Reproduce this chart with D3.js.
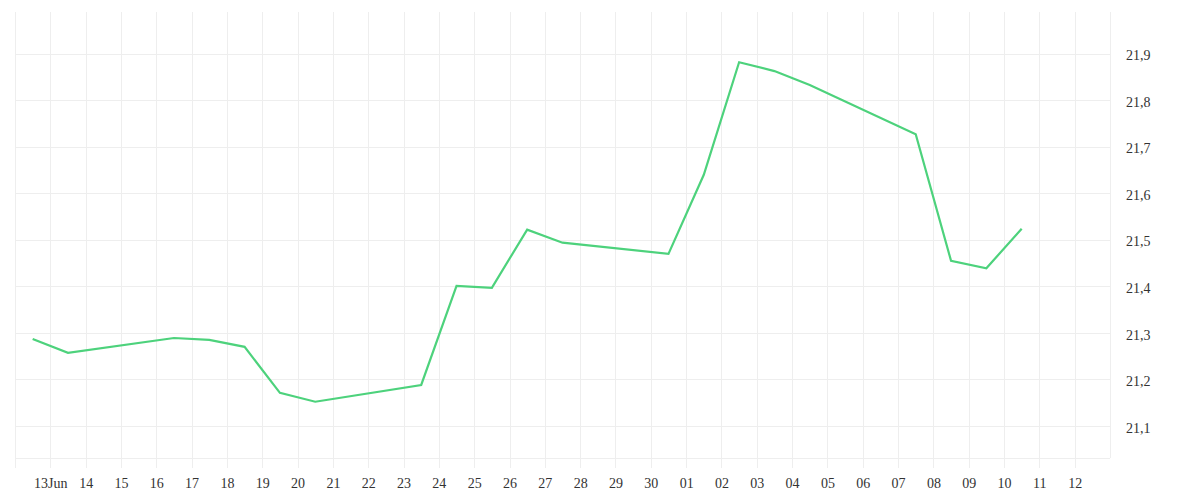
<!DOCTYPE html>
<html>
<head>
<meta charset="utf-8">
<script src="https://cdn.jsdelivr.net/npm/d3@7"></script>
<style>
  html, body { margin: 0; padding: 0; background: #ffffff; }
  svg { display: block; }
  text { font-family: "Liberation Serif", serif; font-size: 14px; fill: #333333; }
</style>
</head>
<body>
<svg id="chart" width="1200" height="500"></svg>
<script>
// ---- data ----
const dates = [
  "2014-06-12", "2014-06-13", "2014-06-16", "2014-06-17", "2014-06-18",
  "2014-06-19", "2014-06-20", "2014-06-23", "2014-06-24", "2014-06-25",
  "2014-06-26", "2014-06-27", "2014-06-30", "2014-07-01", "2014-07-02",
  "2014-07-03", "2014-07-04", "2014-07-07", "2014-07-08", "2014-07-09",
  "2014-07-10"
];
const values = [
  21.287, 21.257, 21.289, 21.285, 21.270,
  21.171, 21.152, 21.188, 21.401, 21.397,
  21.522, 21.494, 21.470, 21.640, 21.882,
  21.863, 21.833, 21.727, 21.455, 21.439,
  21.524
];
const xTickDates = [
  "2014-06-13", "2014-06-14", "2014-06-15", "2014-06-16", "2014-06-17", "2014-06-18",
  "2014-06-19", "2014-06-20", "2014-06-21", "2014-06-22", "2014-06-23", "2014-06-24",
  "2014-06-25", "2014-06-26", "2014-06-27", "2014-06-28", "2014-06-29", "2014-06-30",
  "2014-07-01", "2014-07-02", "2014-07-03", "2014-07-04", "2014-07-05", "2014-07-06",
  "2014-07-07", "2014-07-08", "2014-07-09", "2014-07-10", "2014-07-11", "2014-07-12"
];
const xTickLabels = [
  "13Jun", "14", "15", "16", "17", "18", "19", "20", "21", "22", "23", "24",
  "25", "26", "27", "28", "29", "30", "01", "02", "03", "04", "05", "06",
  "07", "08", "09", "10", "11", "12"
];
const yTicks = [21.1, 21.2, 21.3, 21.4, 21.5, 21.6, 21.7, 21.8, 21.9];
const yTickLabels = ["21,1", "21,2", "21,3", "21,4", "21,5", "21,6", "21,7", "21,8", "21,9"];
const xDomain = ["2014-06-12", "2014-07-13"];
const yDomain = [21.031, 21.990];

// ---- drawing ----
(function () {
const parse = d3.utcParse("%Y-%m-%d");
const svg = d3.select("#chart");
const mLeft = 15, mRight = 1110, mTop = 12, mBottom = 458;

const x = d3.scaleUtc().domain(xDomain.map(parse)).range([mLeft, mRight]);
const y = d3.scaleLinear().domain(yDomain).range([mBottom, mTop]);

const data = dates.map((d, i) => ({ date: d3.utcHour.offset(parse(d), 12), value: values[i] }));

const gridColor = "#eeeeee";

// vertical grid lines (each day), extended below as tick marks
const endDate = parse(xDomain[1]);
const dayLines = d3.utcDay.range(parse(xDomain[0]), d3.utcDay.offset(endDate, 1));
svg.append("g").selectAll("line").data(dayLines).join("line")
  .attr("x1", d => Math.round(x(d)) + 0.5).attr("x2", d => Math.round(x(d)) + 0.5)
  .attr("y1", mTop).attr("y2", d => (+d === +endDate ? mBottom : mBottom + 10))
  .attr("stroke", gridColor).attr("stroke-width", 1);

// horizontal grid lines
svg.append("g").selectAll("line").data(yTicks).join("line")
  .attr("x1", mLeft).attr("x2", mRight)
  .attr("y1", d => Math.round(y(d)) + 0.5).attr("y2", d => Math.round(y(d)) + 0.5)
  .attr("stroke", gridColor).attr("stroke-width", 1);
// bottom axis line
svg.append("line")
  .attr("x1", mLeft).attr("x2", mRight)
  .attr("y1", mBottom + 0.5).attr("y2", mBottom + 0.5)
  .attr("stroke", gridColor).attr("stroke-width", 1);

// x axis labels
const xAxis = d3.axisBottom(x)
  .tickValues(xTickDates.map(parse))
  .tickFormat((d, i) => xTickLabels[i])
  .tickSize(0).tickPadding(0);
const gx = svg.append("g").attr("transform", `translate(0,${mBottom})`).call(xAxis);
gx.select(".domain").remove();
gx.selectAll("text").attr("dy", null).attr("y", 30)
  .style("font-family", "'Liberation Serif', serif").style("font-size", "14px").attr("fill", "#333");

// y axis labels
const yAxis = d3.axisRight(y)
  .tickValues(yTicks)
  .tickFormat((d, i) => yTickLabels[i])
  .tickSize(0).tickPadding(0);
const gy = svg.append("g").attr("transform", `translate(${mRight + 16},0)`).call(yAxis);
gy.select(".domain").remove();
gy.selectAll("text").attr("dy", "0.65em").attr("y", -3)
  .style("font-family", "'Liberation Serif', serif").style("font-size", "14px").attr("fill", "#333");

// line
const line = d3.line().x(d => x(d.date)).y(d => y(d.value));
svg.append("path").datum(data)
  .attr("d", line)
  .attr("fill", "none")
  .attr("stroke", "#4dd27c")
  .attr("stroke-width", 2.2)
  .attr("stroke-linejoin", "miter");
})();
</script>
</body>
</html>
